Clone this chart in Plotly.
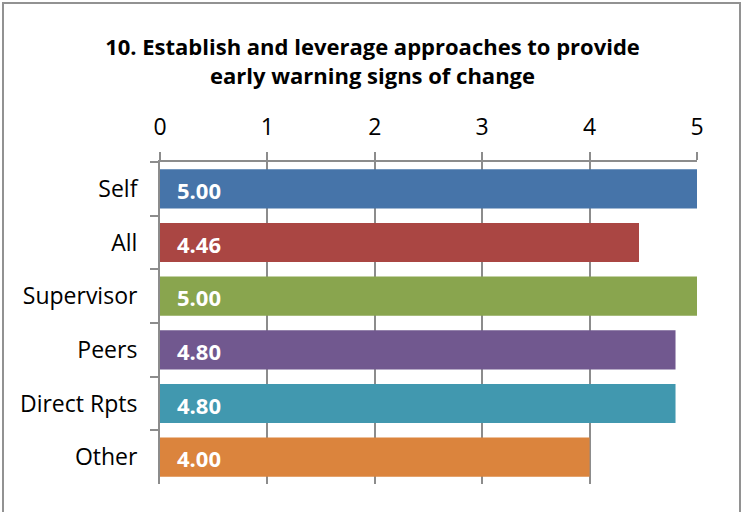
import plotly.graph_objects as go

categories = ["Self", "All", "Supervisor", "Peers", "Direct Rpts", "Other"]
scores = [5.00, 4.46, 5.00, 4.80, 4.80, 4.00]
bar_colors = ["#4674A9", "#AA4643", "#89A54E", "#71588F", "#4198AF", "#DB843D"]
tick_values = [0, 1, 2, 3, 4, 5]
title_text = "10. Establish and leverage approaches to provide<br>early warning signs of change"

W, H = 745, 512
L, R, T, B = 160, 48, 162, 28
pw, ph = W - L - R, H - T - B

FONT = "Open Sans"
GRAY = "#8C8C8C"

fig = go.Figure()
fig.add_trace(go.Bar(
    x=scores,
    y=categories,
    orientation="h",
    marker=dict(color=bar_colors, line=dict(width=0)),
    hoverinfo="skip",
))

# value labels at the base of each bar
for cat, val in zip(categories, scores):
    fig.add_annotation(
        x=0, y=cat, xref="x", yref="y",
        text=f"<b>{val:.2f}</b>",
        showarrow=False, xanchor="left", xshift=15, yshift=-1,
        font=dict(family=FONT, size=22, color="white"),
    )

# outer chart border
fig.add_shape(
    type="rect", xref="paper", yref="paper",
    x0=(3 - L) / pw, x1=(740 - L) / pw,
    y0=(H - 520 - B) / ph, y1=(H - 3 - B) / ph,
    line=dict(color="#929292", width=2), layer="below",
)

fig.update_layout(
    width=W, height=H,
    margin=dict(l=L, r=R, t=T, b=B),
    paper_bgcolor="white", plot_bgcolor="white",
    bargap=0.27,
    showlegend=False,
    title=dict(
        text=f"<b>{title_text}</b>",
        x=0.5, xref="container", xanchor="center",
        y=1 - 55 / H, yanchor="top",
        font=dict(family=FONT, size=22, color="black"),
    ),
    xaxis=dict(
        side="top", range=[0, 5], tickvals=tick_values,
        showgrid=True, gridcolor=GRAY, gridwidth=2,
        showline=True, linecolor=GRAY, linewidth=2,
        ticks="outside", ticklen=8, tickwidth=2, tickcolor=GRAY,
        ticklabelstandoff=8,
        tickfont=dict(family=FONT, size=23, color="black"),
        zeroline=False, fixedrange=True,
    ),
    yaxis=dict(
        autorange="reversed",
        showline=True, linecolor=GRAY, linewidth=2,
        ticks="outside", ticklen=8, tickwidth=2, tickcolor=GRAY,
        tickson="boundaries", ticklabelstandoff=16,
        tickfont=dict(family=FONT, size=23, color="black"),
        showgrid=False, fixedrange=True,
    ),
)

fig.write_html("out.html")
